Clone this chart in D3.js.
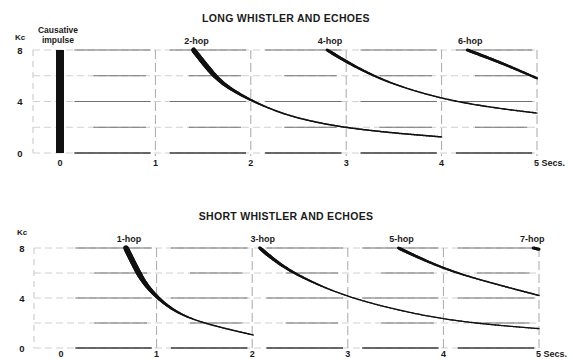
<!DOCTYPE html>
<html><head><meta charset="utf-8">
<script src="https://cdn.jsdelivr.net/npm/d3@7"></script>
<style>
html,body{margin:0;padding:0;background:#fff;}
svg{display:block;}
text{font-family:"Liberation Sans",Arial,sans-serif;fill:#1a1a1a;}
</style></head><body>
<svg id="c" width="575" height="359"></svg>
<script>
// ---- data (seconds, kilocycles) ----
const xTicks = [0,1,2,3,4,5];
const xTickLabels = ["0","1","2","3","4","5 Secs."];
const yTicks = [0,4,8];
const gridLevels = [0,2,4,6,8];
const topTitle = "LONG WHISTLER AND ECHOES";
const bottomTitle = "SHORT WHISTLER AND ECHOES";
const impulseLabel = ["Causative","impulse"];

// long whistler
const hop2 = [[1.40,8],[1.57,6.4],[1.71,5.3],[1.99,4.1],[2.31,3.1],[2.6,2.5],[3.0,1.95],[3.5,1.55],[4.0,1.25]];
const hop4 = [[2.8,8],[3.0,7.1],[3.2,6.3],[3.5,5.3],[4.0,4.2],[4.5,3.55],[5.0,3.1]];
const hop6 = [[4.27,8],[4.63,7.0],[5.0,5.8]];
// short whistler
const hop1 = [[0.68,8],[0.77,6.6],[0.86,5.3],[0.98,4.24],[1.12,3.3],[1.30,2.5],[1.56,1.84],[2.01,1.04]];
const hop3 = [[2.08,8],[2.29,6.64],[2.57,5.44],[3.0,4.05],[3.55,2.98],[4.0,2.3],[4.5,1.85],[5.0,1.55]];
const hop5 = [[3.53,8],[4.0,6.3],[4.5,5.2],[5.0,4.2]];
const hop7 = [[4.94,8],[5.0,7.9]];

const topSeries = [{name:"2-hop",data:hop2},{name:"4-hop",data:hop4},{name:"6-hop",data:hop6}];
const bottomSeries = [{name:"1-hop",data:hop1},{name:"3-hop",data:hop3},{name:"5-hop",data:hop5},{name:"7-hop",data:hop7}];

// ---- styles / layout ----
const svg = d3.select("#c");
const panels = [
  {title:topTitle, titleX:286, titleY:22, series:topSeries,
   x:d3.scaleLinear().domain([0,5]).range([60,537]),
   y:d3.scaleLinear().domain([0,8]).range([153,50]),
   kcX:20, kcY:40, tickY:166, impulse:true, leftX:33,
   // [max width, min width, freq where min reached, freq where max reached]
   widths:{"2-hop":[5,1.5,3.5,6.5],"4-hop":[3,1.4,5,7.5],"6-hop":[3,2.2,6,7.8]}},
  {title:bottomTitle, titleX:286, titleY:220, series:bottomSeries,
   x:d3.scaleLinear().domain([0,5]).range([61,539]),
   y:d3.scaleLinear().domain([0,8]).range([348,248]),
   kcX:22, kcY:235, tickY:357, impulse:false, leftX:34,
   widths:{"1-hop":[5.5,1.4,2.2,6.0],"3-hop":[3.5,1.3,4.5,7.5],"5-hop":[3,1.5,5.5,7.8],"7-hop":[3,3,0,8]}}
];

panels.forEach(p => {
  const g = svg.append("g");
  const x = p.x, y = p.y;

  g.append("text").attr("x",p.titleX).attr("y",p.titleY).attr("text-anchor","middle")
    .style("font-size","10.5px").style("font-weight","bold").style("letter-spacing","0.3px")
    .text(p.title);
  g.append("text").attr("x",p.kcX).attr("y",p.kcY).attr("text-anchor","middle")
    .style("font-size","8px").style("font-weight","bold").text("Kc");

  g.append("line").attr("x1",p.leftX).attr("x2",p.leftX).attr("y1",y(8)).attr("y2",y(0))
    .attr("stroke","#c4c4c4").attr("stroke-width",1).attr("stroke-dasharray","6,5");

  gridLevels.forEach(lv => {
    g.append("line").attr("x1",p.leftX).attr("x2",x(5)).attr("y1",y(lv)).attr("y2",y(lv))
      .attr("stroke","#d0d0d0").attr("stroke-width",1).attr("stroke-dasharray","7,4");
    d3.range(0,5).forEach(i => {
      const a = (lv % 4 === 0) ? 0.15 : 0.35, b = (lv % 4 === 0) ? 0.95 : 0.9;
      g.append("line").attr("x1",x(i+a)).attr("x2",x(i+b)).attr("y1",y(lv)).attr("y2",y(lv))
        .attr("stroke", lv===0 ? "#3a3a3a" : "#707070").attr("stroke-width", lv===0 ? 1.5 : 1.1);
    });
  });

  xTicks.slice(1).forEach(t => {
    g.append("line").attr("x1",x(t)).attr("x2",x(t)).attr("y1",y(8)).attr("y2",y(0)+3)
      .attr("stroke","#a8a8a8").attr("stroke-width",1).attr("stroke-dasharray","9,4");
  });

  yTicks.forEach(t => {
    g.append("text").attr("x",p.kcX).attr("y",y(t)+3.5).attr("text-anchor","middle")
      .style("font-size","9.5px").style("font-weight","bold").text(t);
  });
  xTicks.forEach((t,i) => {
    g.append("text").attr("x",x(t)).attr("y",p.tickY)
      .attr("text-anchor", i===5 ? "start" : "middle").attr("dx", i===5 ? -3 : 0)
      .style("font-size", "9px").style("font-weight","bold").text(xTickLabels[i]);
  });

  if (p.impulse) {
    g.append("rect").attr("x",x(0)-4).attr("width",8).attr("y",y(8)).attr("height",y(0)-y(8))
      .attr("fill","#111");
    impulseLabel.forEach((s,k) => {
      g.append("text").attr("x",x(0)-2).attr("y",33+k*10).attr("text-anchor","middle")
        .style("font-size","8.5px").style("font-weight","bold").text(s);
    });
  }

  const line = d3.line().x(d=>x(d[0])).y(d=>y(d[1])).curve(d3.curveBasis);
  p.series.forEach(s => {
    const [wMax,wMin,fLo,fHi] = p.widths[s.name];
    const tmp = g.append("path").attr("d",line(s.data)).attr("fill","none").attr("stroke","none");
    const node = tmp.node(), L = node.getTotalLength();
    const n = Math.max(2, Math.round(L/1.5));
    for (let i=0;i<n;i++){
      const p0 = node.getPointAtLength(L*i/n), p1 = node.getPointAtLength(L*(i+1)/n);
      const f = y.invert((p0.y+p1.y)/2);
      const k = fHi===fLo ? 1 : Math.max(0, Math.min(1, (f-fLo)/(fHi-fLo)));
      const w = wMin + (wMax-wMin)*k;
      g.append("line").attr("x1",p0.x).attr("y1",p0.y).attr("x2",p1.x).attr("y2",p1.y)
        .attr("stroke","#111").attr("stroke-width",w).attr("stroke-linecap","round");
    }
    tmp.remove();
    const first = s.data[0];
    g.append("text").attr("x",x(first[0])+(s.name==="7-hop"? -1 : 3)).attr("y",y(8)-6)
      .attr("text-anchor","middle").style("font-size","9px").style("font-weight","bold").text(s.name);
  });
});
</script>
</body></html>
